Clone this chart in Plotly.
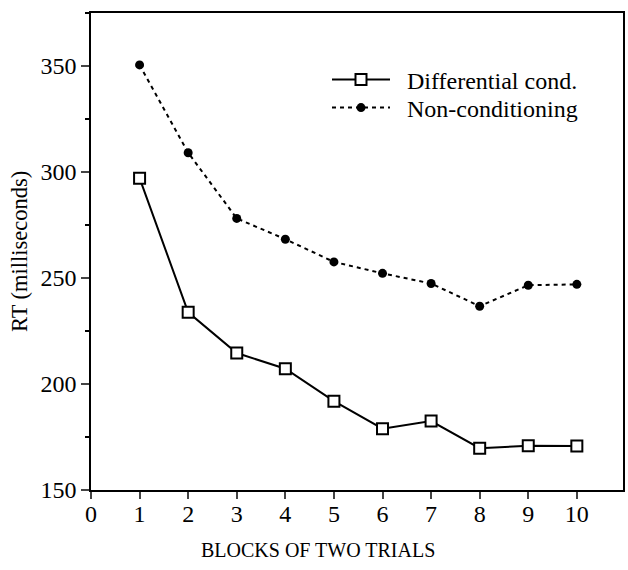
import plotly.graph_objects as go

blocks = [1, 2, 3, 4, 5, 6, 7, 8, 9, 10]
differential = [297.1, 233.8, 214.6, 207.2, 191.9, 178.9, 182.5, 169.7, 170.9, 170.7]
nonconditioning = [350.5, 309.1, 278.1, 268.3, 257.6, 252.2, 247.4, 236.7, 246.6, 247.0]
series_names = ["\u00a0\u00a0Non-conditioning", "\u00a0\u00a0Differential cond."]

FONT = "serif"

fig = go.Figure()
fig.add_trace(go.Scatter(
    x=blocks, y=nonconditioning, name=series_names[0], mode="lines+markers",
    line=dict(color="black", width=2, dash="4px,4px"),
    marker=dict(symbol="circle", size=9, color="black"),
    legend="legend2",
))
fig.add_trace(go.Scatter(
    x=blocks, y=differential, name=series_names[1], mode="lines+markers",
    line=dict(color="black", width=2),
    marker=dict(symbol="square", size=11, color="white", line=dict(color="black", width=2)),
    legend="legend",
))

legend_common = dict(xanchor="left", yanchor="middle", bgcolor="rgba(0,0,0,0)",
                     font=dict(family=FONT, size=24), itemwidth=58)
fig.update_layout(
    width=628, height=570,
    margin=dict(l=91, r=5, t=13, b=80, autoexpand=False),
    plot_bgcolor="white", paper_bgcolor="white",
    font=dict(family=FONT, size=24, color="black"),
    showlegend=True,
    legend=dict(x=(327 - 91) / 532, y=1 - (80 - 13) / 477, **legend_common),
    legend2=dict(x=(327 - 91) / 532, y=1 - (108 - 13) / 477, **legend_common),
    xaxis=dict(range=[0, 10.95], tickvals=list(range(0, 11)), ticks="outside",
               ticklen=7, tickwidth=1.5, linecolor="black", linewidth=1.5,
               showline=True, mirror=True, showgrid=False, zeroline=False,
               ticklabelstandoff=-6,
               tickfont=dict(family=FONT, size=24)),
    yaxis=dict(range=[150, 375], tickvals=[150, 200, 250, 300, 350], ticks="outside",
               ticklen=8, tickwidth=1.5, linecolor="black", linewidth=1.5,
               showline=True, mirror=True, showgrid=False, zeroline=False,
               tickfont=dict(family=FONT, size=24),
               minor=dict(tickvals=[175, 225, 275, 325, 375], ticks="outside",
                          ticklen=4, tickwidth=1.5, tickcolor="black")),
)

fig.add_annotation(text="BLOCKS OF TWO TRIALS", xref="paper", yref="paper",
                   x=(318 - 91) / 532, y=-(550 - 490) / 477, xanchor="center", yanchor="middle",
                   showarrow=False, font=dict(family=FONT, size=20))
fig.add_annotation(text="RT (milliseconds)", xref="paper", yref="paper",
                   x=-(91 - 20) / 532, y=(490 - 252) / 477, xanchor="center", yanchor="middle",
                   textangle=-90, showarrow=False, font=dict(family=FONT, size=22.5))

fig.write_html("out.html", config={"displayModeBar": False},
               post_script="document.body.style.margin='0';document.body.style.padding='0';")
